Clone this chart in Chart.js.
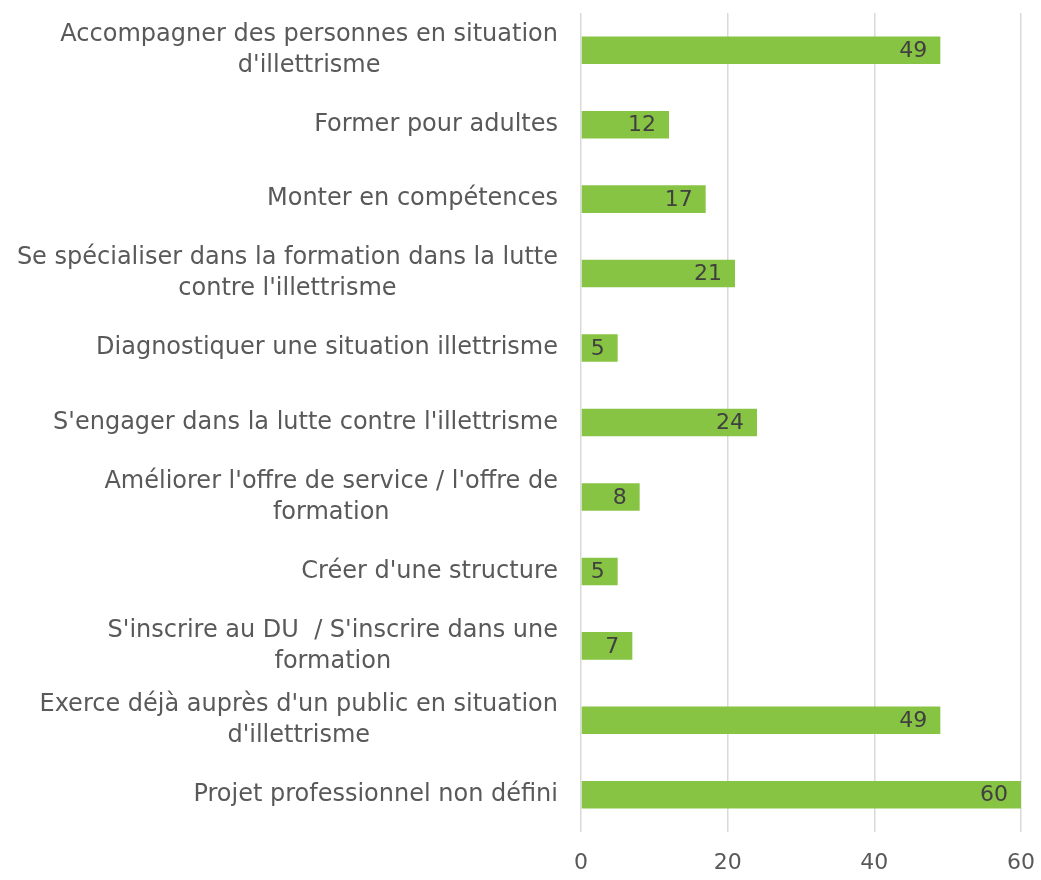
<!DOCTYPE html>
<html>
<head>
<meta charset="utf-8">
<script src="https://cdn.jsdelivr.net/npm/chart.js@4.4.1/dist/chart.umd.min.js"></script>
<style>
  html, body { margin: 0; padding: 0; background: #ffffff; }
  #wrap { width: 1041px; height: 880px; }
</style>
</head>
<body>
<div id="wrap"><canvas id="c" width="1041" height="880"></canvas></div>
<script>
const categories = [
  ["Accompagner des personnes en situation", "d'illettrisme"],
  ["Former pour adultes"],
  ["Monter en compétences"],
  ["Se spécialiser dans la formation dans la lutte", "contre l'illettrisme"],
  ["Diagnostiquer une situation illettrisme"],
  ["S'engager dans la lutte contre l'illettrisme"],
  ["Améliorer l'offre de service / l'offre de", "formation"],
  ["Créer d'une structure"],
  ["S'inscrire au DU  / S'inscrire dans une", "formation"],
  ["Exerce déjà auprès d'un public en situation", "d'illettrisme"],
  ["Projet professionnel non défini"]
];
const values = [49, 12, 17, 21, 5, 24, 8, 5, 7, 49, 60];
const xTicks = [0, 20, 40, 60];

const FONT = "'DejaVu Sans', sans-serif";
const LABEL_SIZE = 24;
const NUM_SIZE = 22;
const TEXT_COLOR = '#595959';
const VALUE_COLOR = '#404040';
const BAR_COLOR = '#88C443';

const labelPlugin = {
  id: 'labelPlugin',
  afterDraw(chart) {
    const ctx = chart.ctx;
    const yScale = chart.scales.y;
    const area = chart.chartArea;
    ctx.save();
    ctx.font = LABEL_SIZE + 'px ' + FONT;
    ctx.fillStyle = TEXT_COLOR;
    ctx.textAlign = 'center';
    ctx.textBaseline = 'middle';
    const lineH = 31;
    const rightEdge = area.left - 23;
    categories.forEach((lines, i) => {
      const cy = yScale.getPixelForValue(i);
      let maxW = 0;
      lines.forEach(l => { maxW = Math.max(maxW, ctx.measureText(l).width); });
      const cx = rightEdge - maxW / 2;
      const startY = cy - (lines.length - 1) * lineH / 2;
      lines.forEach((l, k) => ctx.fillText(l, cx, startY + k * lineH));
    });
    // value labels
    const meta = chart.getDatasetMeta(0);
    ctx.font = NUM_SIZE + 'px ' + FONT;
    ctx.fillStyle = VALUE_COLOR;
    ctx.textAlign = 'right';
    meta.data.forEach((bar, i) => {
      ctx.fillText(String(values[i]), bar.x - 13, bar.y + 1);
    });
    ctx.restore();
  }
};

new Chart(document.getElementById('c'), {
  type: 'bar',
  data: {
    labels: categories,
    datasets: [{
      data: values,
      backgroundColor: BAR_COLOR,
      borderWidth: 0,
      barPercentage: 0.37,
      categoryPercentage: 1.0
    }]
  },
  options: {
    indexAxis: 'y',
    responsive: false,
    animation: false,
    layout: { padding: { top: 13, right: 20, bottom: 4, left: 0 } },
    plugins: { legend: { display: false }, tooltip: { enabled: false } },
    scales: {
      x: {
        min: 0,
        max: 60,
        afterBuildTicks(scale) { scale.ticks = xTicks.map(v => ({ value: v })); },
        afterFit(scale) {
          scale.height = 44;
          scale.paddingRight = 0;
          scale.paddingLeft = 0;
        },
        ticks: {
          font: { family: FONT, size: NUM_SIZE },
          color: TEXT_COLOR,
          padding: 18,
          maxRotation: 0
        },
        grid: { color: '#d9d9d9', lineWidth: 1.5, drawTicks: false },
        border: { display: false }
      },
      y: {
        ticks: { display: false },
        grid: { display: false },
        border: { display: false },
        afterFit(scale) { scale.width = 581; }
      }
    }
  },
  plugins: [labelPlugin]
});
</script>
</body>
</html>
